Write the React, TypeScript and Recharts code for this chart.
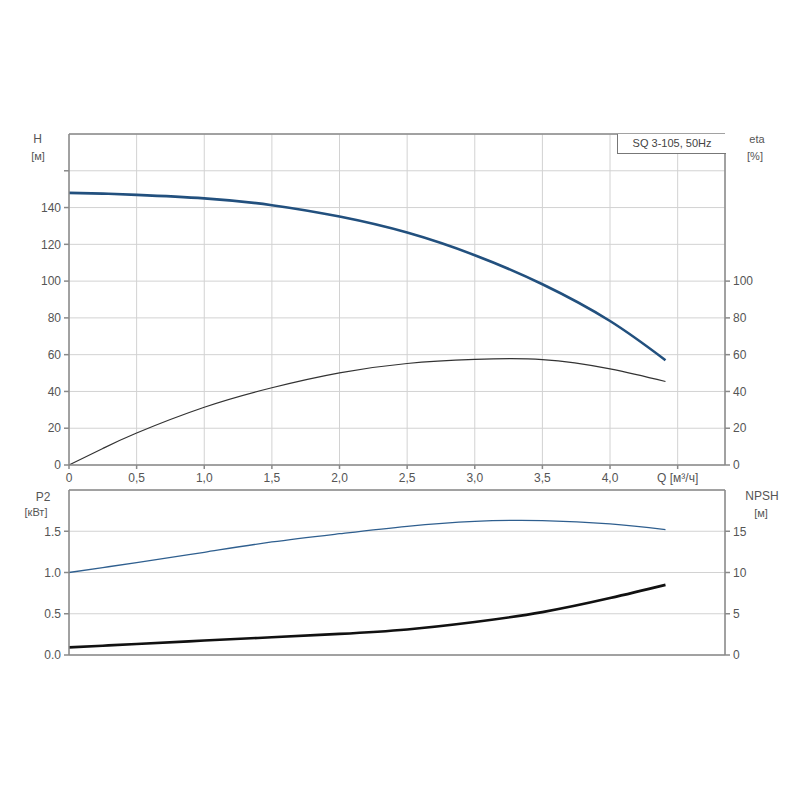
import React from 'react';
import { LineChart, Line, XAxis, YAxis, CartesianGrid, ReferenceLine } from 'recharts';

// flow rate Q [m3/h]
const flow = [0, 0.25, 0.5, 1.0, 1.5, 2.0, 2.5, 3.0, 3.5, 4.0, 4.41];
// head H [m]
const head = [148, 147.6, 146.9, 145, 141.3, 135.1, 126.4, 114.1, 98.3, 78.3, 57];
// efficiency eta [%]
const eta = [0, 9.0, 17.4, 31.4, 42, 50.1, 55.2, 57.4, 57.3, 52.3, 45.4];
// power P2 [kW]
const power = [1.0, 1.06, 1.12, 1.245, 1.37, 1.47, 1.56, 1.62, 1.63, 1.59, 1.52];
// NPSH [m]
const npsh = [0.93, 1.13, 1.34, 1.75, 2.15, 2.56, 3.1, 4.0, 5.2, 6.9, 8.5];

const qTicks = [0, 0.5, 1.0, 1.5, 2.0, 2.5, 3.0, 3.5, 4.0, 4.5];
const hTicks = [0, 20, 40, 60, 80, 100, 120, 140, 160];
const etaTicks = [0, 20, 40, 60, 80, 100];
const pTicks = [0, 0.5, 1.0, 1.5];
const npshTicks = [0, 5, 10, 15];

const rows = flow.map((q, i) => ({ q, head: head[i], eta: eta[i], power: power[i], npsh: npsh[i] }));

const FONT = '"Liberation Sans", Arial, sans-serif';
const tickStyle = { fontSize: 12, fill: '#555', fontFamily: FONT };
const AXIS = '#8a8a8a';
const GRID = '#d2d2d2';

const qLabel = (v: number) => {
  if (v === 0) return '0';
  if (v === 4.5) return 'Q [м³/ч]';
  return v.toFixed(1).replace('.', ',');
};

const note = (text: string, x: number, y: number, size = 12) => (
  <div
    style={{
      position: 'absolute',
      left: x - 40,
      top: y - size * 0.6,
      width: 80,
      textAlign: 'center',
      fontFamily: FONT,
      fontSize: size,
      lineHeight: '1.2',
      color: '#555',
    }}
  >
    {text}
  </div>
);

export default function App() {
  return (
    <div style={{ position: 'absolute', left: 0, top: 0, width: 800, height: 800, background: '#fff' }}>
      <div style={{ position: 'absolute', left: 0, top: 0 }}>
        <LineChart width={800} height={500} data={rows} margin={{ top: 134, right: 35, bottom: 5, left: 29 }}>
          <CartesianGrid yAxisId="h" stroke={GRID} />
          <XAxis
            dataKey="q"
            type="number"
            domain={[0, 4.85]}
            ticks={qTicks}
            tickFormatter={qLabel}
            tick={tickStyle}
            stroke={AXIS}
            strokeWidth={1.5}
            tickSize={4}
            tickMargin={4}
            height={30}
            interval={0}
          />
          <YAxis
            yAxisId="h"
            domain={[0, 180]}
            ticks={hTicks}
            tickFormatter={(v: number) => (v > 140 ? '' : String(v))}
            tick={tickStyle}
            stroke={AXIS}
            strokeWidth={1.5}
            tickSize={5}
            tickMargin={3}
            width={40}
            interval={0}
          />
          <YAxis
            yAxisId="eta"
            orientation="right"
            domain={[0, 180]}
            ticks={etaTicks}
            tick={tickStyle}
            stroke={AXIS}
            strokeWidth={1.5}
            tickSize={5}
            tickMargin={3}
            width={40}
            interval={0}
          />
          <ReferenceLine yAxisId="h" y={180} stroke={AXIS} strokeWidth={1.5} />
          <Line yAxisId="h" dataKey="head" type="natural" stroke="#22507e" strokeWidth={2.6} dot={false} isAnimationActive={false} />
          <Line yAxisId="eta" dataKey="eta" type="natural" stroke="#333" strokeWidth={1.2} dot={false} isAnimationActive={false} />
        </LineChart>
      </div>
      <div style={{ position: 'absolute', left: 0, top: 470 }}>
        <LineChart width={800} height={200} data={rows} margin={{ top: 20, right: 35, bottom: 14, left: 29 }}>
          <CartesianGrid yAxisId="p" stroke={GRID} />
          <XAxis
            dataKey="q"
            type="number"
            domain={[0, 4.85]}
            ticks={qTicks}
            tick={false}
            tickLine={false}
            stroke={AXIS}
            strokeWidth={1.5}
            height={1}
            interval={0}
          />
          <YAxis
            yAxisId="p"
            domain={[0, 2]}
            ticks={pTicks}
            tickFormatter={(v: number) => v.toFixed(1)}
            tick={tickStyle}
            stroke={AXIS}
            strokeWidth={1.5}
            tickSize={5}
            tickMargin={3}
            width={40}
            interval={0}
          />
          <YAxis
            yAxisId="n"
            orientation="right"
            domain={[0, 20]}
            ticks={npshTicks}
            tick={tickStyle}
            stroke={AXIS}
            strokeWidth={1.5}
            tickSize={5}
            tickMargin={3}
            width={40}
            interval={0}
          />
          <ReferenceLine yAxisId="p" y={2} stroke={AXIS} strokeWidth={1.5} />
          <Line yAxisId="p" dataKey="power" type="natural" stroke="#2f5f8f" strokeWidth={1.3} dot={false} isAnimationActive={false} />
          <Line yAxisId="n" dataKey="npsh" type="natural" stroke="#111" strokeWidth={2.6} dot={false} isAnimationActive={false} />
        </LineChart>
      </div>
      {note('H', 37.5, 139)}
      {note('[м]', 38, 157, 11)}
      {note('eta', 757, 140, 11)}
      {note('[%]', 755, 157, 11)}
      {note('P2', 43, 497)}
      {note('[кВт]', 36, 513, 11)}
      {note('NPSH', 762, 496)}
      {note('[м]', 761, 514, 11)}
      <div
        style={{
          position: 'absolute',
          left: 617,
          top: 134,
          width: 108,
          height: 19,
          border: '1px solid #777',
          borderTop: 'none',
          borderRight: 'none',
          background: '#fff',
          fontFamily: FONT,
          fontSize: 11,
          lineHeight: '19px',
          textAlign: 'center',
          color: '#444',
        }}
      >
        SQ 3-105, 50Hz
      </div>
    </div>
  );
}
